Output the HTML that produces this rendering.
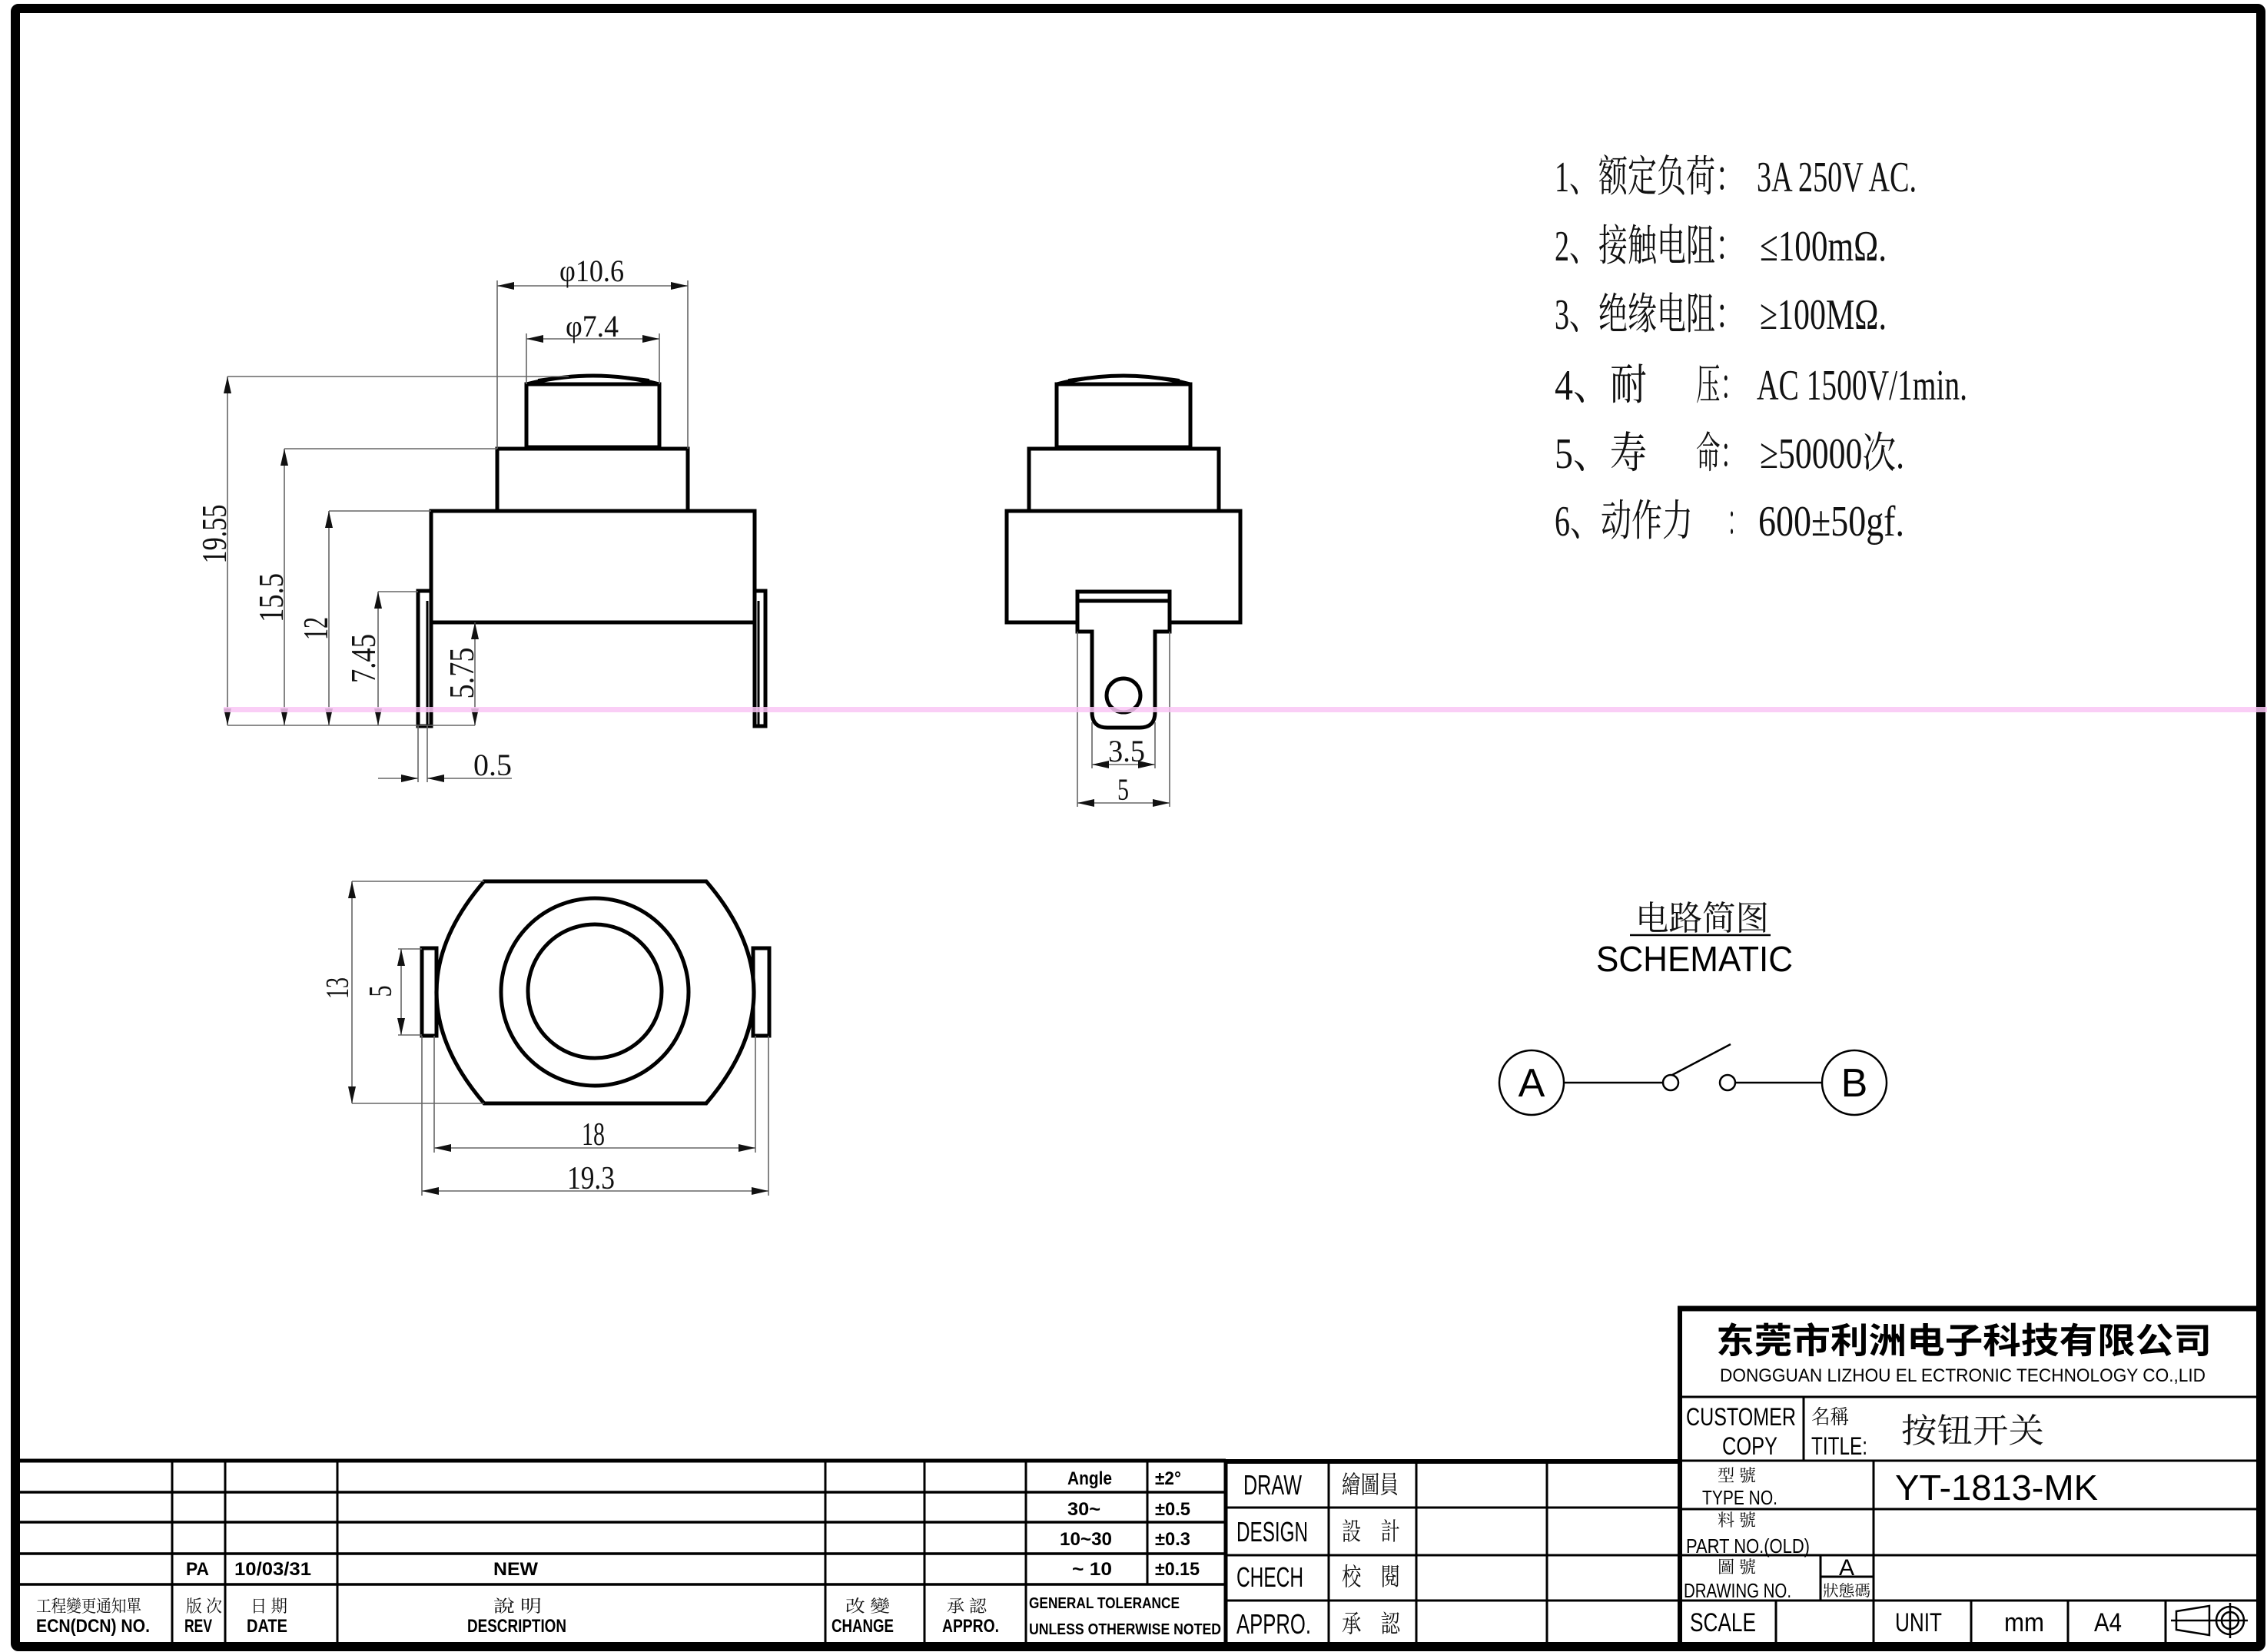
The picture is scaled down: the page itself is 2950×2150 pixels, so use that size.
<!DOCTYPE html>
<html><head><meta charset="utf-8"><style>
html,body{margin:0;padding:0;background:#fff;}
svg{display:block;}
.t{font-family:"Liberation Serif","Noto Serif CJK SC",serif;fill:#111;}
.s{font-family:"Liberation Sans","Noto Sans CJK SC",sans-serif;fill:#000;}
.b{font-weight:bold;}
</style></head><body>
<svg width="2950" height="2150" viewBox="0 0 2950 2150" xmlns="http://www.w3.org/2000/svg">
<rect x="0" y="0" width="2950" height="2150" fill="#fff"/>
<!-- outer border -->
<rect x="20" y="11" width="2922" height="2132" fill="none" stroke="#000" stroke-width="12" rx="4"/>

<!-- ========== SIDE VIEW ========== -->
<g fill="none" stroke="#000" stroke-width="5" stroke-linejoin="miter">
  <path d="M685,500 Q772,478 858,500" />
  <path d="M700,494 Q772,483 845,494" stroke-width="2"/>
  <rect x="685" y="500" width="173" height="82"/>
  <rect x="647" y="584" width="248" height="81"/>
  <rect x="561" y="665" width="421" height="145"/>
  <rect x="544" y="769" width="17" height="176"/>
  <line x1="556" y1="782" x2="556" y2="945" stroke-width="3"/>
  <rect x="982" y="769" width="14" height="176"/>
  <line x1="987" y1="782" x2="987" y2="945" stroke-width="3"/>
</g>
<!-- side view dims -->
<g stroke="#666" stroke-width="1.6" fill="none">
  <line x1="296" y1="490" x2="740" y2="490"/>
  <line x1="370" y1="584" x2="647" y2="584"/>
  <line x1="428" y1="665" x2="561" y2="665"/>
  <line x1="492" y1="770" x2="544" y2="770"/>
  <line x1="296" y1="944" x2="618" y2="944"/>
  <line x1="296" y1="490" x2="296" y2="944"/>
  <line x1="370" y1="584" x2="370" y2="944"/>
  <line x1="428" y1="665" x2="428" y2="944"/>
  <line x1="492" y1="770" x2="492" y2="944"/>
  <line x1="618" y1="810" x2="618" y2="944"/>
  <line x1="647" y1="365" x2="647" y2="584"/>
  <line x1="895" y1="365" x2="895" y2="584"/>
  <line x1="647" y1="372" x2="895" y2="372"/>
  <line x1="685" y1="434" x2="685" y2="500"/>
  <line x1="858" y1="434" x2="858" y2="500"/>
  <line x1="685" y1="441" x2="858" y2="441"/>
  <line x1="544" y1="945" x2="544" y2="1018"/>
  <line x1="556" y1="945" x2="556" y2="1018"/>
  <line x1="492" y1="1013" x2="544" y2="1013"/>
  <line x1="556" y1="1013" x2="666" y2="1013"/>
</g>
<g fill="#111">
  <polygon points="296,490 291,512 301,512"/><polygon points="296,944 291,922 301,922"/>
  <polygon points="370,584 365,606 375,606"/><polygon points="370,944 365,922 375,922"/>
  <polygon points="428,665 423,687 433,687"/><polygon points="428,944 423,922 433,922"/>
  <polygon points="492,770 487,792 497,792"/><polygon points="492,944 487,922 497,922"/>
  <polygon points="618,810 613,832 623,832"/><polygon points="618,944 613,922 623,922"/>
  <polygon points="647,372 669,367 669,377"/><polygon points="895,372 873,367 873,377"/>
  <polygon points="685,441 707,436 707,446"/><polygon points="858,441 836,436 836,446"/>
  <polygon points="544,1013 522,1008 522,1018"/><polygon points="556,1013 578,1008 578,1018"/>
</g>
<g class="t" font-size="40">
  <text x="728" y="366" textLength="84" lengthAdjust="spacingAndGlyphs">φ10.6</text>
  <text x="736" y="438" textLength="69" lengthAdjust="spacingAndGlyphs">φ7.4</text>
  <text x="616" y="1009" textLength="50" lengthAdjust="spacingAndGlyphs">0.5</text>
  <text transform="translate(294,695) rotate(-90)" text-anchor="middle" font-size="46" textLength="77" lengthAdjust="spacingAndGlyphs">19.55</text>
  <text transform="translate(368,778) rotate(-90)" text-anchor="middle" font-size="46" textLength="64" lengthAdjust="spacingAndGlyphs">15.5</text>
  <text transform="translate(426,818) rotate(-90)" text-anchor="middle" font-size="46" textLength="30" lengthAdjust="spacingAndGlyphs">12</text>
  <text transform="translate(488,857) rotate(-90)" text-anchor="middle" font-size="46" textLength="64" lengthAdjust="spacingAndGlyphs">7.45</text>
  <text transform="translate(616,876) rotate(-90)" text-anchor="middle" font-size="46" textLength="67" lengthAdjust="spacingAndGlyphs">5.75</text>
</g>

<!-- ========== FRONT VIEW ========== -->
<g fill="none" stroke="#000" stroke-width="5">
  <path d="M1375,500 Q1462,478 1549,500" />
  <path d="M1390,494 Q1462,483 1535,494" stroke-width="2"/>
  <rect x="1375" y="500" width="174" height="82"/>
  <rect x="1339" y="584" width="247" height="81"/>
  <rect x="1310" y="665" width="304" height="145"/>
  <path d="M1402,770 H1522 V822 H1503 V927 Q1503,947 1483,947 H1441 Q1421,947 1421,927 V822 H1402 Z" fill="#fff"/>
  <line x1="1402" y1="782" x2="1522" y2="782"/>
  <circle cx="1462" cy="905" r="22"/>
</g>
<g stroke="#666" stroke-width="1.6" fill="none">
  <line x1="1402" y1="822" x2="1402" y2="1050"/>
  <line x1="1522" y1="822" x2="1522" y2="1050"/>
  <line x1="1421" y1="940" x2="1421" y2="1000"/>
  <line x1="1503" y1="940" x2="1503" y2="1000"/>
  <line x1="1421" y1="995" x2="1503" y2="995"/>
  <line x1="1402" y1="1045" x2="1522" y2="1045"/>
</g>
<g fill="#111">
  <polygon points="1421,995 1443,990 1443,1000"/><polygon points="1503,995 1481,990 1481,1000"/>
  <polygon points="1402,1045 1424,1040 1424,1050"/><polygon points="1522,1045 1500,1040 1500,1050"/>
</g>
<g class="t" font-size="40">
  <text x="1442" y="991" textLength="48" lengthAdjust="spacingAndGlyphs">3.5</text>
  <text x="1454" y="1041" textLength="15" lengthAdjust="spacingAndGlyphs">5</text>
</g>

<!-- pink line -->
<rect x="291" y="920" width="2659" height="7" fill="#f9c6f4" opacity="0.85"/>

<!-- ========== BOTTOM VIEW ========== -->
<g fill="none" stroke="#000" stroke-width="5">
  <rect x="549" y="1234" width="19" height="114"/>
  <rect x="980" y="1234" width="21" height="114"/>
  <path d="M630,1147 H919 Q1043,1291 919,1436 H630 Q506,1291 630,1147 Z" fill="#fff"/>
  <circle cx="774" cy="1291" r="122"/>
  <circle cx="774" cy="1290" r="87"/>
</g>
<g stroke="#666" stroke-width="1.6" fill="none">
  <line x1="458" y1="1147" x2="630" y2="1147"/>
  <line x1="458" y1="1436" x2="630" y2="1436"/>
  <line x1="458" y1="1147" x2="458" y2="1436"/>
  <line x1="518" y1="1235" x2="549" y2="1235"/>
  <line x1="518" y1="1347" x2="549" y2="1347"/>
  <line x1="522" y1="1235" x2="522" y2="1347"/>
  <line x1="549" y1="1348" x2="549" y2="1556"/>
  <line x1="1000" y1="1348" x2="1000" y2="1556"/>
  <line x1="565" y1="1348" x2="565" y2="1500"/>
  <line x1="983" y1="1348" x2="983" y2="1500"/>
  <line x1="565" y1="1494" x2="983" y2="1494"/>
  <line x1="549" y1="1550" x2="1000" y2="1550"/>
</g>
<g fill="#111">
  <polygon points="458,1147 453,1169 463,1169"/><polygon points="458,1436 453,1414 463,1414"/>
  <polygon points="522,1235 517,1257 527,1257"/><polygon points="522,1347 517,1325 527,1325"/>
  <polygon points="565,1494 587,1489 587,1499"/><polygon points="983,1494 961,1489 961,1499"/>
  <polygon points="549,1550 571,1545 571,1555"/><polygon points="1000,1550 978,1545 978,1555"/>
</g>
<g class="t" font-size="42">
  <text transform="translate(453,1286) rotate(-90)" text-anchor="middle" textLength="28" lengthAdjust="spacingAndGlyphs">13</text>
  <text transform="translate(509,1290) rotate(-90)" text-anchor="middle" textLength="15" lengthAdjust="spacingAndGlyphs">5</text>
  <text x="757" y="1490" textLength="30" lengthAdjust="spacingAndGlyphs">18</text>
  <text x="738" y="1547" textLength="62" lengthAdjust="spacingAndGlyphs">19.3</text>
</g>

<!-- ========== SPEC TEXT ========== -->
<g class="t" font-size="56">
  <text x="2023" y="249" textLength="247" lengthAdjust="spacingAndGlyphs">1、额定负荷：</text>
  <text x="2286" y="249" textLength="208" lengthAdjust="spacingAndGlyphs">3A 250V AC.</text>
  <text x="2023" y="339" textLength="247" lengthAdjust="spacingAndGlyphs">2、接触电阻：</text>
  <text x="2290" y="339" textLength="165" lengthAdjust="spacingAndGlyphs">≤100mΩ.</text>
  <text x="2023" y="428" textLength="247" lengthAdjust="spacingAndGlyphs">3、绝缘电阻：</text>
  <text x="2290" y="428" textLength="165" lengthAdjust="spacingAndGlyphs">≥100MΩ.</text>
  <text x="2023" y="520" textLength="120" lengthAdjust="spacingAndGlyphs">4、耐</text>
  <text x="2207" y="520" textLength="63" lengthAdjust="spacingAndGlyphs">压：</text>
  <text x="2286" y="520" textLength="274" lengthAdjust="spacingAndGlyphs">AC 1500V/1min.</text>
  <text x="2023" y="609" textLength="120" lengthAdjust="spacingAndGlyphs">5、寿</text>
  <text x="2207" y="609" textLength="63" lengthAdjust="spacingAndGlyphs">命：</text>
  <text x="2290" y="609" textLength="188" lengthAdjust="spacingAndGlyphs">≥50000次.</text>
  <text x="2023" y="697" textLength="180" lengthAdjust="spacingAndGlyphs">6、动作力</text>
  <text x="2248" y="697" textLength="24" lengthAdjust="spacingAndGlyphs">：</text>
  <text x="2288" y="697" textLength="190" lengthAdjust="spacingAndGlyphs">600±50gf.</text>
</g>

<!-- ========== SCHEMATIC ========== -->
<text class="t" x="2128" y="1210" font-size="44" textLength="174" lengthAdjust="spacingAndGlyphs">电路简图</text>
<line x1="2121" y1="1217" x2="2304" y2="1217" stroke="#000" stroke-width="2.5"/>
<text class="s" x="2077" y="1264" font-size="46" textLength="256" lengthAdjust="spacingAndGlyphs">SCHEMATIC</text>
<g fill="none" stroke="#000" stroke-width="2.5">
  <circle cx="1993" cy="1409" r="42"/>
  <circle cx="2413" cy="1409" r="42"/>
  <line x1="2035" y1="1409" x2="2164" y2="1409"/>
  <circle cx="2174" cy="1409" r="10"/>
  <line x1="2176" y1="1399" x2="2252" y2="1359"/>
  <circle cx="2248" cy="1409" r="10"/>
  <line x1="2258" y1="1409" x2="2371" y2="1409"/>
</g>
<text class="s" x="1993" y="1427" font-size="52" text-anchor="middle">A</text>
<text class="s" x="2413" y="1427" font-size="52" text-anchor="middle">B</text>

<!-- ========== REVISION TABLE ========== -->
<g stroke="#000" fill="none">
  <line x1="14" y1="1901" x2="1595" y2="1901" stroke-width="5"/>
  <line x1="14" y1="1942" x2="1595" y2="1942" stroke-width="3.5"/>
  <line x1="14" y1="1981" x2="1595" y2="1981" stroke-width="3.5"/>
  <line x1="14" y1="2022" x2="1595" y2="2022" stroke-width="3.5"/>
  <line x1="14" y1="2062" x2="1595" y2="2062" stroke-width="3.5"/>
  <line x1="224" y1="1901" x2="224" y2="2138" stroke-width="3"/>
  <line x1="293" y1="1901" x2="293" y2="2138" stroke-width="3"/>
  <line x1="439" y1="1901" x2="439" y2="2138" stroke-width="3"/>
  <line x1="1074" y1="1901" x2="1074" y2="2138" stroke-width="3"/>
  <line x1="1203" y1="1901" x2="1203" y2="2138" stroke-width="3"/>
  <line x1="1335" y1="1901" x2="1335" y2="2138" stroke-width="3"/>
  <line x1="1493" y1="1901" x2="1493" y2="2062" stroke-width="3"/>
</g>
<g class="s b" font-size="24">
  <text x="1389" y="1932" textLength="58" lengthAdjust="spacingAndGlyphs">Angle</text>
  <text x="1503" y="1932" textLength="34" lengthAdjust="spacingAndGlyphs">±2°</text>
  <text x="1389" y="1972" textLength="43" lengthAdjust="spacingAndGlyphs">30~</text>
  <text x="1503" y="1972" textLength="46" lengthAdjust="spacingAndGlyphs">±0.5</text>
  <text x="1379" y="2011" textLength="68" lengthAdjust="spacingAndGlyphs">10~30</text>
  <text x="1503" y="2011" textLength="46" lengthAdjust="spacingAndGlyphs">±0.3</text>
  <text x="1395" y="2050" textLength="52" lengthAdjust="spacingAndGlyphs">~ 10</text>
  <text x="1503" y="2050" textLength="58" lengthAdjust="spacingAndGlyphs">±0.15</text>
  <text x="242" y="2050" textLength="30" lengthAdjust="spacingAndGlyphs">PA</text>
  <text x="305" y="2050" textLength="100" lengthAdjust="spacingAndGlyphs">10/03/31</text>
  <text x="642" y="2050" textLength="58" lengthAdjust="spacingAndGlyphs">NEW</text>
  <text x="47" y="2124" textLength="148" lengthAdjust="spacingAndGlyphs">ECN(DCN) NO.</text>
  <text x="240" y="2124" textLength="36" lengthAdjust="spacingAndGlyphs">REV</text>
  <text x="321" y="2124" textLength="53" lengthAdjust="spacingAndGlyphs">DATE</text>
  <text x="608" y="2124" textLength="129" lengthAdjust="spacingAndGlyphs">DESCRIPTION</text>
  <text x="1082" y="2124" textLength="81" lengthAdjust="spacingAndGlyphs">CHANGE</text>
  <text x="1226" y="2124" textLength="74" lengthAdjust="spacingAndGlyphs">APPRO.</text>
  <text x="1339" y="2093" font-size="20" textLength="196" lengthAdjust="spacingAndGlyphs">GENERAL TOLERANCE</text>
  <text x="1339" y="2127" font-size="20" textLength="250" lengthAdjust="spacingAndGlyphs">UNLESS OTHERWISE NOTED</text>
</g>
<g class="t" font-size="22" fill="#333">
  <text x="47" y="2098" textLength="137" lengthAdjust="spacingAndGlyphs">工程變更通知單</text>
  <text x="242" y="2098" textLength="47" lengthAdjust="spacingAndGlyphs">版 次</text>
  <text x="326" y="2098" textLength="48" lengthAdjust="spacingAndGlyphs">日 期</text>
  <text x="642" y="2098" textLength="63" lengthAdjust="spacingAndGlyphs">說 明</text>
  <text x="1100" y="2098" textLength="58" lengthAdjust="spacingAndGlyphs">改 變</text>
  <text x="1232" y="2098" textLength="52" lengthAdjust="spacingAndGlyphs">承 認</text>
</g>

<!-- ========== DRAW BLOCK ========== -->
<g stroke="#000" fill="none">
  <line x1="1595" y1="1902" x2="2186" y2="1902" stroke-width="6"/>
  <line x1="1595" y1="1899" x2="1595" y2="2140" stroke-width="5"/>
  <line x1="1595" y1="1962" x2="2186" y2="1962" stroke-width="3"/>
  <line x1="1595" y1="2024" x2="2186" y2="2024" stroke-width="3"/>
  <line x1="1595" y1="2083" x2="2186" y2="2083" stroke-width="3"/>
  <line x1="1729" y1="1902" x2="1729" y2="2138" stroke-width="3"/>
  <line x1="1843" y1="1902" x2="1843" y2="2138" stroke-width="3"/>
  <line x1="2013" y1="1902" x2="2013" y2="2138" stroke-width="3"/>
</g>
<g class="s" font-size="36">
  <text x="1618" y="1945" textLength="76" lengthAdjust="spacingAndGlyphs">DRAW</text>
  <text x="1609" y="2006" textLength="93" lengthAdjust="spacingAndGlyphs">DESIGN</text>
  <text x="1609" y="2065" textLength="87" lengthAdjust="spacingAndGlyphs">CHECH</text>
  <text x="1609" y="2126" textLength="97" lengthAdjust="spacingAndGlyphs">APPRO.</text>
</g>
<g class="t" font-size="32">
  <text x="1746" y="1943" textLength="74" lengthAdjust="spacingAndGlyphs">繪圖員</text>
  <text x="1746" y="2004" textLength="76" lengthAdjust="spacingAndGlyphs">設　計</text>
  <text x="1746" y="2063" textLength="76" lengthAdjust="spacingAndGlyphs">校　閱</text>
  <text x="1746" y="2124" textLength="76" lengthAdjust="spacingAndGlyphs">承　認</text>
</g>

<!-- ========== TITLE BLOCK ========== -->
<g stroke="#000" fill="none">
  <line x1="2183" y1="1703" x2="2942" y2="1703" stroke-width="7"/>
  <line x1="2186" y1="1700" x2="2186" y2="2140" stroke-width="6"/>
  <line x1="2186" y1="1818" x2="2942" y2="1818" stroke-width="3"/>
  <line x1="2186" y1="1901" x2="2942" y2="1901" stroke-width="3"/>
  <line x1="2186" y1="1964" x2="2942" y2="1964" stroke-width="3"/>
  <line x1="2186" y1="2024" x2="2942" y2="2024" stroke-width="3"/>
  <line x1="2186" y1="2083" x2="2942" y2="2083" stroke-width="3"/>
  <line x1="2347" y1="1818" x2="2347" y2="1901" stroke-width="3"/>
  <line x1="2438" y1="1901" x2="2438" y2="2138" stroke-width="3"/>
  <line x1="2369" y1="2024" x2="2369" y2="2083" stroke-width="3"/>
  <line x1="2369" y1="2052" x2="2438" y2="2052" stroke-width="3"/>
  <line x1="2311" y1="2083" x2="2311" y2="2138" stroke-width="3"/>
  <line x1="2565" y1="2083" x2="2565" y2="2138" stroke-width="3"/>
  <line x1="2691" y1="2083" x2="2691" y2="2138" stroke-width="3"/>
  <line x1="2818" y1="2083" x2="2818" y2="2138" stroke-width="3"/>
</g>
<text x="2233" y="1761" font-family="'Noto Sans CJK SC',sans-serif" font-weight="bold" font-size="46" textLength="645" lengthAdjust="spacingAndGlyphs">东莞市利洲电子科技有限公司</text>
<text class="s" x="2238" y="1798" font-size="24" textLength="632" lengthAdjust="spacingAndGlyphs">DONGGUAN LIZHOU EL ECTRONIC TECHNOLOGY CO.,LID</text>
<g class="s" font-size="32">
  <text x="2194" y="1855" textLength="143" lengthAdjust="spacingAndGlyphs">CUSTOMER</text>
  <text x="2241" y="1893" textLength="72" lengthAdjust="spacingAndGlyphs">COPY</text>
  <text x="2357" y="1893" textLength="73" lengthAdjust="spacingAndGlyphs">TITLE:</text>
  <text x="2215" y="1958" font-size="26" textLength="98" lengthAdjust="spacingAndGlyphs">TYPE NO.</text>
  <text x="2194" y="2021" font-size="26" textLength="161" lengthAdjust="spacingAndGlyphs">PART NO.(OLD)</text>
  <text x="2191" y="2079" font-size="26" textLength="140" lengthAdjust="spacingAndGlyphs">DRAWING NO.</text>
  <text x="2403" y="2050" font-size="30" text-anchor="middle">A</text>
  <text x="2199" y="2123" font-size="34" textLength="86" lengthAdjust="spacingAndGlyphs">SCALE</text>
  <text x="2466" y="2123" font-size="34" textLength="61" lengthAdjust="spacingAndGlyphs">UNIT</text>
  <text x="2608" y="2123" font-size="34" textLength="52" lengthAdjust="spacingAndGlyphs">mm</text>
  <text x="2725" y="2123" font-size="34" textLength="36" lengthAdjust="spacingAndGlyphs">A4</text>
  <text x="2466" y="1952" font-size="46" textLength="264" lengthAdjust="spacingAndGlyphs">YT-1813-MK</text>
</g>
<g class="t" fill="#333">
  <text x="2357" y="1853" font-size="26" textLength="49" lengthAdjust="spacingAndGlyphs">名稱</text>
  <text x="2474" y="1877" font-size="44" fill="#111" textLength="186" lengthAdjust="spacingAndGlyphs">按钮开关</text>
  <text x="2235" y="1928" font-size="22" textLength="50" lengthAdjust="spacingAndGlyphs">型 號</text>
  <text x="2235" y="1986" font-size="22" textLength="50" lengthAdjust="spacingAndGlyphs">料 號</text>
  <text x="2235" y="2047" font-size="22" textLength="50" lengthAdjust="spacingAndGlyphs">圖 號</text>
  <text x="2372" y="2077" font-size="20" textLength="62" lengthAdjust="spacingAndGlyphs">狀態碼</text>
</g>
<g fill="none" stroke="#000" stroke-width="2.5">
  <path d="M2832,2097 L2875,2090 L2875,2128 L2832,2121 Z"/>
  <line x1="2825" y1="2109" x2="2925" y2="2109"/>
  <circle cx="2902" cy="2109" r="18"/>
  <circle cx="2902" cy="2109" r="11"/>
  <line x1="2902" y1="2086" x2="2902" y2="2132"/>
</g>
</svg>
</body></html>
